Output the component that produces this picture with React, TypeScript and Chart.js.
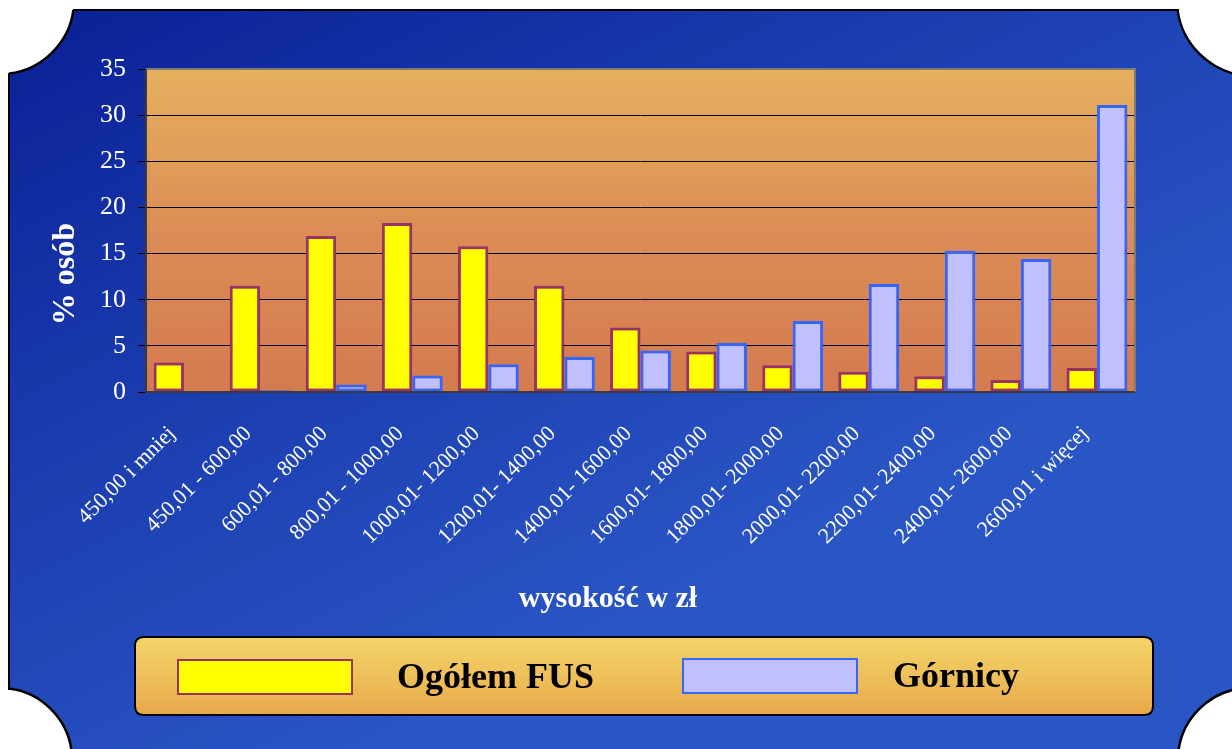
import React, { useEffect, useRef } from "react";
import { Chart, registerables } from "chart.js";

Chart.register(...registerables);

const categories = [
  "450,00 i mniej",
  "450,01 - 600,00",
  "600,01 - 800,00",
  "800,01 - 1000,00",
  "1000,01- 1200,00",
  "1200,01- 1400,00",
  "1400,01- 1600,00",
  "1600,01- 1800,00",
  "1800,01- 2000,00",
  "2000,01- 2200,00",
  "2200,01- 2400,00",
  "2400,01- 2600,00",
  "2600,01 i więcej",
];
const ogolemFUS = [3.2, 11.5, 16.9, 18.3, 15.8, 11.5, 7.0, 4.4, 2.9, 2.2, 1.7, 1.3, 2.6];
const gornicy = [0, 0.2, 0.8, 1.8, 3.0, 3.8, 4.5, 5.3, 7.7, 11.7, 15.3, 14.4, 31.1];
const seriesLabels = ["Ogółem FUS", "Górnicy"];
const yMin = 0;
const yMax = 35;
const yStep = 5;
const xTitle = "wysokość w zł";
const yTitle = "% osób";

const SERIF = "'Liberation Serif', 'Times New Roman', serif";

function roundRect(ctx: CanvasRenderingContext2D, x: number, y: number, w: number, h: number, r: number) {
  ctx.beginPath();
  ctx.moveTo(x + r, y);
  ctx.lineTo(x + w - r, y);
  ctx.quadraticCurveTo(x + w, y, x + w, y + r);
  ctx.lineTo(x + w, y + h - r);
  ctx.quadraticCurveTo(x + w, y + h, x + w - r, y + h);
  ctx.lineTo(x + r, y + h);
  ctx.quadraticCurveTo(x, y + h, x, y + h - r);
  ctx.lineTo(x, y + r);
  ctx.quadraticCurveTo(x, y, x + r, y);
  ctx.closePath();
}

const decorPlugin = {
  id: "decor",
  beforeDraw(chart: any) {
    const { ctx, width, height, chartArea: ca } = chart;
    ctx.save();
    ctx.fillStyle = "#ffffff";
    ctx.fillRect(0, 0, width, height);
    const g = ctx.createLinearGradient(0, 10, width * 0.3, height);
    g.addColorStop(0, "#0a1f95");
    g.addColorStop(0.5, "#1a3cae");
    g.addColorStop(1, "#2a55c4");
    ctx.fillStyle = g;
    ctx.fillRect(9, 10, width - 9, height - 10);
    // concave corners
    ctx.save();
    ctx.beginPath();
    ctx.rect(9, 10, width - 9, height - 10);
    ctx.clip();
    const corners = [
      [0, 0, 74],
      [1253, 0, 76],
      [0, 760, 72],
      [1250, 760, 72],
    ];
    for (const [cx, cy, r] of corners) {
      ctx.beginPath();
      ctx.arc(cx, cy, r, 0, Math.PI * 2);
      ctx.fillStyle = "#ffffff";
      ctx.fill();
      ctx.lineWidth = 2.5;
      ctx.strokeStyle = "#000";
      ctx.stroke();
    }
    ctx.restore();
    ctx.strokeStyle = "#000";
    ctx.lineWidth = 2;
    ctx.beginPath();
    ctx.moveTo(73, 10);
    ctx.lineTo(1179, 10);
    ctx.moveTo(9, 73);
    ctx.lineTo(9, 690);
    ctx.stroke();
    // plot area
    const og = ctx.createLinearGradient(0, ca.top, 0, ca.bottom);
    og.addColorStop(0, "#e6b05f");
    og.addColorStop(0.5, "#dc8d55");
    og.addColorStop(1, "#d47a50");
    ctx.fillStyle = og;
    ctx.fillRect(ca.left, ca.top, ca.right - ca.left, ca.bottom - ca.top);
    ctx.restore();
  },
  afterDraw(chart: any) {
    const { ctx, chartArea: ca } = chart;
    ctx.save();
    // frame
    ctx.lineWidth = 2;
    ctx.strokeStyle = "#7a7a7a";
    ctx.beginPath();
    ctx.moveTo(ca.left, ca.top);
    ctx.lineTo(ca.right, ca.top);
    ctx.lineTo(ca.right, ca.bottom);
    ctx.stroke();
    ctx.strokeStyle = "#3a3a3a";
    ctx.beginPath();
    ctx.moveTo(ca.left, ca.top);
    ctx.lineTo(ca.left, ca.bottom);
    ctx.lineTo(ca.right, ca.bottom);
    ctx.stroke();

    // axis titles
    ctx.fillStyle = "#ffffff";
    ctx.font = `bold 30px ${SERIF}`;
    ctx.textAlign = "center";
    ctx.textBaseline = "alphabetic";
    ctx.fillText(xTitle, 608, 607);
    ctx.save();
    ctx.translate(74, 274);
    ctx.rotate(-Math.PI / 2);
    ctx.font = `bold 32px ${SERIF}`;
    ctx.fillText(yTitle, 0, 0);
    ctx.restore();

    // legend
    const lg = ctx.createLinearGradient(0, 637, 0, 715);
    lg.addColorStop(0, "#f3d468");
    lg.addColorStop(0.5, "#eec05a");
    lg.addColorStop(1, "#e8a84a");
    roundRect(ctx, 135, 637, 1018, 78, 9);
    ctx.fillStyle = lg;
    ctx.fill();
    ctx.lineWidth = 2;
    ctx.strokeStyle = "#000";
    ctx.stroke();
    const items = [
      { box: [178, 660], text: 397 },
      { box: [683, 659], text: 893 },
    ];
    chart.data.datasets.forEach((ds: any, i: number) => {
      const it = items[i];
      ctx.fillStyle = ds.backgroundColor;
      ctx.fillRect(it.box[0], it.box[1], 174, 34);
      ctx.strokeStyle = ds.borderColor;
      ctx.lineWidth = 2;
      ctx.strokeRect(it.box[0], it.box[1], 174, 34);
      ctx.fillStyle = "#000";
      ctx.font = `bold 36px ${SERIF}`;
      ctx.textAlign = "left";
      ctx.textBaseline = "middle";
      ctx.fillText(ds.label, it.text, it.box[1] + 19);
    });
    ctx.restore();
  },
};

export default function App() {
  const ref = useRef<HTMLCanvasElement | null>(null);
  useEffect(() => {
    if (!ref.current) return;
    const chart = new Chart(ref.current, {
      type: "bar",
      data: {
        labels: categories,
        datasets: [
          {
            label: seriesLabels[0],
            data: ogolemFUS,
            backgroundColor: "#ffff00",
            borderColor: "#993366",
            borderWidth: 3,
            borderSkipped: false,
            categoryPercentage: 0.8,
            barPercentage: 1.0,
          },
          {
            label: seriesLabels[1],
            data: gornicy,
            backgroundColor: "#c0c0ff",
            borderColor: "#3366ff",
            borderWidth: 3,
            borderSkipped: false,
            categoryPercentage: 0.8,
            barPercentage: 1.0,
          },
        ],
      },
      options: {
        animation: false,
        responsive: false,
        devicePixelRatio: 1,
        layout: { padding: { top: 69, right: 97, left: 0, bottom: 0 } },
        plugins: { legend: { display: false }, tooltip: { enabled: false } },
        scales: {
          x: {
            ticks: {
              color: "#ffffff",
              font: { family: SERIF, size: 22 },
              minRotation: 45,
              maxRotation: 45,
              autoSkip: false,
              padding: 29,
              labelOffset: -12,
            },
            grid: { display: false, drawTicks: false },
            border: { display: false },
            afterFit(s: any) {
              s.height = 357;
            },
          },
          y: {
            min: yMin,
            max: yMax,
            ticks: {
              stepSize: yStep,
              color: "#ffffff",
              font: { family: SERIF, size: 26 },
              padding: 12,
            },
            grid: {
              color: (c: any) =>
                c.tick && (c.tick.value === yMax || c.tick.value === yMin) ? "rgba(0,0,0,0)" : "#000000",
              tickColor: "#000000",
              tickLength: 8,
              lineWidth: 1,
            },
            border: { display: false },
            afterFit(s: any) {
              s.width = 146;
            },
          },
        },
      },
      plugins: [decorPlugin],
    } as any);
    return () => chart.destroy();
  }, []);
  return (
    <div style={{ position: "fixed", left: 0, top: 0, width: 1232, height: 749 }}>
      <canvas ref={ref} width={1232} height={749} style={{ display: "block" }} />
    </div>
  );
}
